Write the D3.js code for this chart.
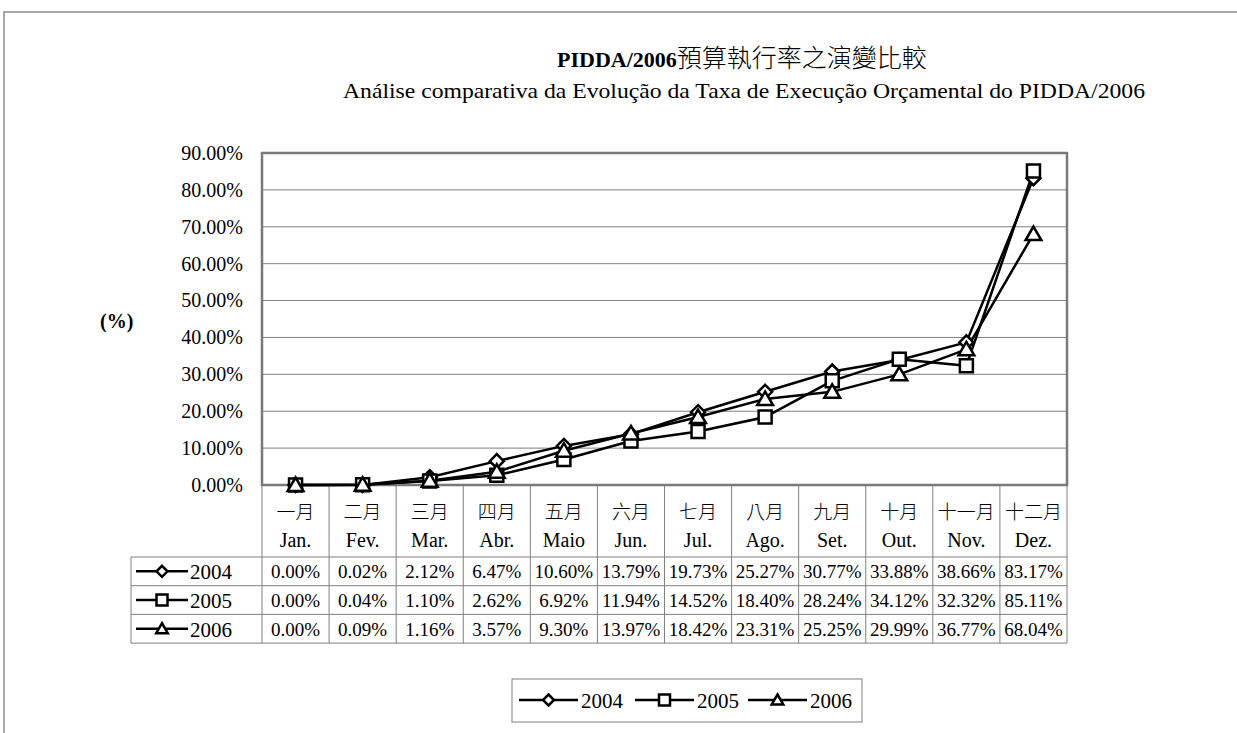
<!DOCTYPE html>
<html>
<head>
<meta charset="utf-8">
<script src="https://cdn.jsdelivr.net/npm/d3@7"></script>
<style>
  body { margin: 0; background: #fff; }
</style>
</head>
<body>
<div id="chart"></div>
<script>
// chart data
var monthsZh = ["一月", "二月", "三月", "四月", "五月", "六月", "七月", "八月", "九月", "十月", "十一月", "十二月"];
var monthsPt = ["Jan.", "Fev.", "Mar.", "Abr.", "Maio", "Jun.", "Jul.", "Ago.", "Set.", "Out.", "Nov.", "Dez."];
var years = ["2004", "2005", "2006"];
var values2004 = [0.00, 0.02, 2.12, 6.47, 10.60, 13.79, 19.73, 25.27, 30.77, 33.88, 38.66, 83.17];
var values2005 = [0.00, 0.04, 1.10, 2.62, 6.92, 11.94, 14.52, 18.40, 28.24, 34.12, 32.32, 85.11];
var values2006 = [0.00, 0.09, 1.16, 3.57, 9.30, 13.97, 18.42, 23.31, 25.25, 29.99, 36.77, 68.04];
var yTicks = [0, 10, 20, 30, 40, 50, 60, 70, 80, 90];

var series = [
    { year: years[0], values: values2004, marker: "diamond" },
    { year: years[1], values: values2005, marker: "square" },
    { year: years[2], values: values2006, marker: "triangle" }
];

var SERIF = "'Liberation Serif', 'Times New Roman', 'DejaVu Serif', serif";
var CJK = "'Noto Sans CJK TC', sans-serif";

var svgWidth = 1237;
var svgHeight = 733;

// plot box
var plot = { left: 262, right: 1067, top: 153, bottom: 485 };
var rowH = 28.7;
var headerBottom = 557;
var tableLeft = 131;

var svg = d3.select("#chart")
    .append("svg")
    .attr("width", svgWidth)
    .attr("height", svgHeight);

// outer frame
svg.append("path")
    .attr("d", `M4,${svgHeight} L4,12 L${svgWidth},12`)
    .attr("fill", "none")
    .attr("stroke", "#8c8c8c")
    .attr("stroke-width", 1.5);

// titles
var t1 = svg.append("text")
    .attr("x", 557).attr("y", 67);
t1.append("tspan")
    .attr("font-family", SERIF)
    .attr("font-size", "22px")
    .attr("font-weight", "bold")
    .text("PIDDA/2006");
t1.append("tspan")
    .attr("font-family", CJK)
    .attr("font-size", "25px")
    .attr("font-weight", 300)
    .text("預算執行率之演變比較");

svg.append("text")
    .attr("x", 343).attr("y", 98)
    .attr("font-family", SERIF)
    .attr("font-size", "21px")
    .attr("textLength", 802)
    .attr("lengthAdjust", "spacingAndGlyphs")
    .text("Análise comparativa da Evolução da Taxa de Execução Orçamental do PIDDA/2006");

svg.append("text")
    .attr("x", 100).attr("y", 328)
    .attr("font-family", SERIF)
    .attr("font-size", "20px")
    .attr("font-weight", "bold")
    .text("(%)");

var xScale = d3.scaleBand()
    .domain(monthsPt)
    .range([plot.left, plot.right])
    .padding(0);
var bw = xScale.bandwidth();
var cx = function (i) { return xScale(monthsPt[i]) + bw / 2; };

var yScale = d3.scaleLinear()
    .domain([0, 90])
    .range([plot.bottom, plot.top]);

// gridlines
svg.append("g")
    .selectAll("line")
    .data(yTicks.slice(1))
    .enter()
    .append("line")
    .attr("x1", plot.left).attr("x2", plot.right)
    .attr("y1", d => yScale(d)).attr("y2", d => yScale(d))
    .attr("stroke", "#808080")
    .attr("stroke-width", 1);

// y axis labels
var leftAxis = d3.axisLeft(yScale)
    .tickValues(yTicks)
    .tickSize(0)
    .tickPadding(19)
    .tickFormat(d => d3.format(".2f")(d) + "%");

var yAxisG = svg.append("g")
    .attr("transform", `translate(${plot.left}, 0)`)
    .call(leftAxis)
    .attr("font-family", SERIF)
    .attr("font-size", 20);
yAxisG.select(".domain").remove();
yAxisG.selectAll("text").attr("fill", "#000");

// table grid lines
var tableBottom = headerBottom + rowH * 3;
var tbl = svg.append("g").attr("stroke", "#808080").attr("stroke-width", 1).attr("fill", "none");
d3.range(monthsPt.length + 1).forEach(function (i) {
    var x = i < monthsPt.length ? xScale(monthsPt[i]) : plot.right;
    tbl.append("line").attr("x1", x).attr("x2", x).attr("y1", plot.bottom).attr("y2", tableBottom);
});
d3.range(4).forEach(function (r) {
    var y = headerBottom + r * rowH;
    tbl.append("line").attr("x1", tableLeft).attr("x2", plot.right).attr("y1", y).attr("y2", y);
});
tbl.append("line").attr("x1", tableLeft).attr("x2", tableLeft).attr("y1", headerBottom).attr("y2", tableBottom);

// plot border
svg.append("rect")
    .attr("x", plot.left).attr("y", plot.top)
    .attr("width", plot.right - plot.left)
    .attr("height", plot.bottom - plot.top)
    .attr("fill", "none")
    .attr("stroke", "#7a7a7a")
    .attr("stroke-width", 2.5);

// month header labels
svg.append("g").selectAll("text")
    .data(monthsZh)
    .enter()
    .append("text")
    .attr("x", (d, i) => cx(i))
    .attr("y", 519)
    .attr("text-anchor", "middle")
    .attr("font-size", "19px")
    .attr("font-family", CJK)
    .attr("font-weight", 300)
    .text(d => d);

svg.append("g").selectAll("text")
    .data(monthsPt)
    .enter()
    .append("text")
    .attr("x", (d, i) => cx(i))
    .attr("y", 547)
    .attr("text-anchor", "middle")
    .attr("font-family", SERIF)
    .attr("font-size", "20px")
    .text(d => d);

// marker path generator
function markerPath(type, s) {
    if (type === "diamond") {
        return `M0,${-s} L${s},0 L0,${s} L${-s},0 Z`;
    } else if (type === "square") {
        return `M${-s},${-s} L${s},${-s} L${s},${s} L${-s},${s} Z`;
    }
    return `M0,${-s} L${s * 1.05},${s * 0.8} L${-s * 1.05},${s * 0.8} Z`;
}
var markerSize = { diamond: 7, square: 6.5, triangle: 7.5 };

// lines
var line = d3.line()
    .x((d, i) => cx(i))
    .y(d => yScale(d));

series.forEach(function (s) {
    svg.append("path")
        .datum(s.values)
        .attr("d", line)
        .attr("fill", "none")
        .attr("stroke", "#000")
        .attr("stroke-width", 2.5)
        .attr("stroke-linejoin", "round");
});

series.forEach(function (s) {
    svg.append("g").selectAll("path")
        .data(s.values)
        .enter()
        .append("path")
        .attr("transform", (d, i) => `translate(${cx(i)}, ${yScale(d)})`)
        .attr("d", markerPath(s.marker, markerSize[s.marker]))
        .attr("fill", "#fff")
        .attr("stroke", "#000")
        .attr("stroke-width", 2.5);
});

// legend key helper
function legendKey(g, x1, x2, y, type) {
    g.append("line")
        .attr("x1", x1).attr("x2", x2)
        .attr("y1", y).attr("y2", y)
        .attr("stroke", "#000").attr("stroke-width", 2.5);
    g.append("path")
        .attr("transform", `translate(${(x1 + x2) / 2}, ${y})`)
        .attr("d", markerPath(type, 5.5))
        .attr("fill", "#fff")
        .attr("stroke", "#000")
        .attr("stroke-width", 2.5);
}

// table rows
series.forEach(function (s, r) {
    var yMid = headerBottom + r * rowH + rowH / 2;
    var g = svg.append("g");
    legendKey(g, 136, 188, yMid, s.marker);
    g.append("text")
        .attr("x", 190).attr("y", yMid + 8)
        .attr("font-family", SERIF)
        .attr("font-size", "21px")
        .text(s.year);
    g.selectAll("text.val")
        .data(s.values)
        .enter()
        .append("text")
        .attr("class", "val")
        .attr("x", (d, i) => cx(i))
        .attr("y", yMid + 7)
        .attr("text-anchor", "middle")
        .attr("font-family", SERIF)
        .attr("font-size", "19px")
        .text(d => d3.format(".2f")(d) + "%");
});

// bottom legend
var legend = svg.append("g");
legend.append("rect")
    .attr("x", 512).attr("y", 679)
    .attr("width", 350).attr("height", 43)
    .attr("fill", "none")
    .attr("stroke", "#808080")
    .attr("stroke-width", 1);
var legendX = [519, 635, 748];
series.forEach(function (s, i) {
    legendKey(legend, legendX[i], legendX[i] + 59, 700, s.marker);
    legend.append("text")
        .attr("x", legendX[i] + 62).attr("y", 708)
        .attr("font-family", SERIF)
        .attr("font-size", "21px")
        .text(s.year);
});
</script>
</body>
</html>
